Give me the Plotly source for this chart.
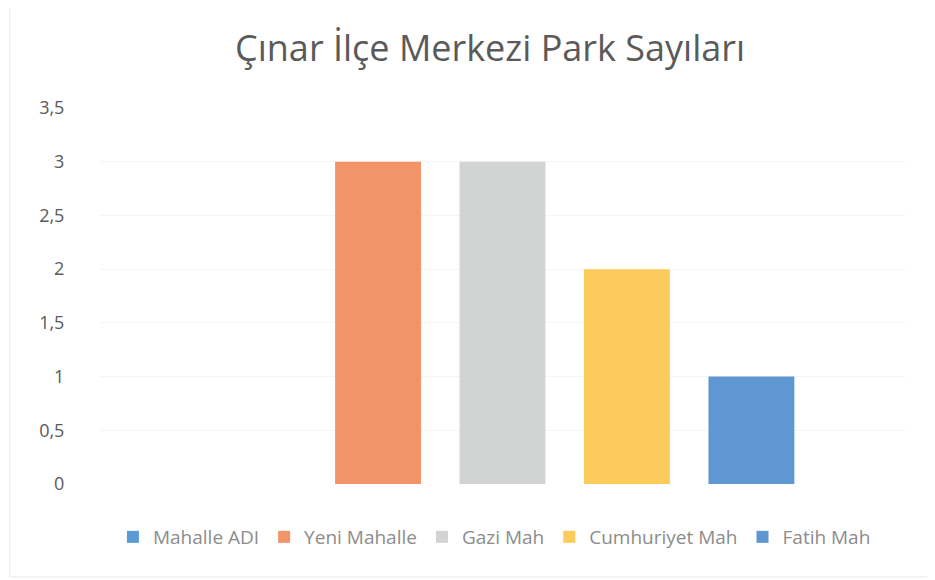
import plotly.graph_objects as go

title = "Çınar İlçe Merkezi Park Sayıları"
category = ["Mahalle"]
series_names = ["Mahalle ADI", "Yeni Mahalle", "Gazi Mah", "Cumhuriyet Mah", "Fatih Mah"]
series_values = [0, 3, 3, 2, 1]
series_colors = ["#5B9BD5", "#F29468", "#D2D3D3", "#FDCB5B", "#5E97D1"]
y_ticks = [0, 0.5, 1, 1.5, 2, 2.5, 3, 3.5]

fig = go.Figure()
for name, val, col in zip(series_names, series_values, series_colors):
    fig.add_trace(go.Bar(x=category, y=[val], name=name, marker=dict(color=col, line=dict(width=0))))

fig.update_layout(
    width=927, height=572,
    paper_bgcolor="white", plot_bgcolor="white",
    separators=",.",
    barmode="group", bargap=0.227, bargroupgap=0.31,
    margin=dict(l=92, r=30, t=100, b=96),
    title=dict(text=title, x=0.52, xanchor="center", y=0.93, yanchor="middle",
               font=dict(family="Open Sans", size=36, color="#5A5A5A")),
    font=dict(family="Open Sans", color="#6A6A6A"),
    showlegend=True,
    legend=dict(orientation="h", x=0.49, xanchor="center", y=-0.141, yanchor="middle",
                font=dict(family="Open Sans", size=19, color="#8C8C8C"),
                itemwidth=30, traceorder="normal", itemsizing="constant"),
    xaxis=dict(showticklabels=False, showgrid=False, zeroline=False, showline=False, ticks=""),
    yaxis=dict(range=[0, 3.5], tickvals=y_ticks, showgrid=True, gridcolor="#F4F4F4",
               zeroline=False, showline=False, ticks="outside", ticklen=31,
               tickcolor="rgba(0,0,0,0)", tickfont=dict(family="Open Sans", size=18, color="#5A5A5A")),
)
fig.add_shape(type="rect", xref="paper", yref="paper", x0=-0.112, x1=1.031, y0=-0.247, y1=1.279,
              line=dict(color="#EBEBEB", width=1))

fig.write_html("out.html")
